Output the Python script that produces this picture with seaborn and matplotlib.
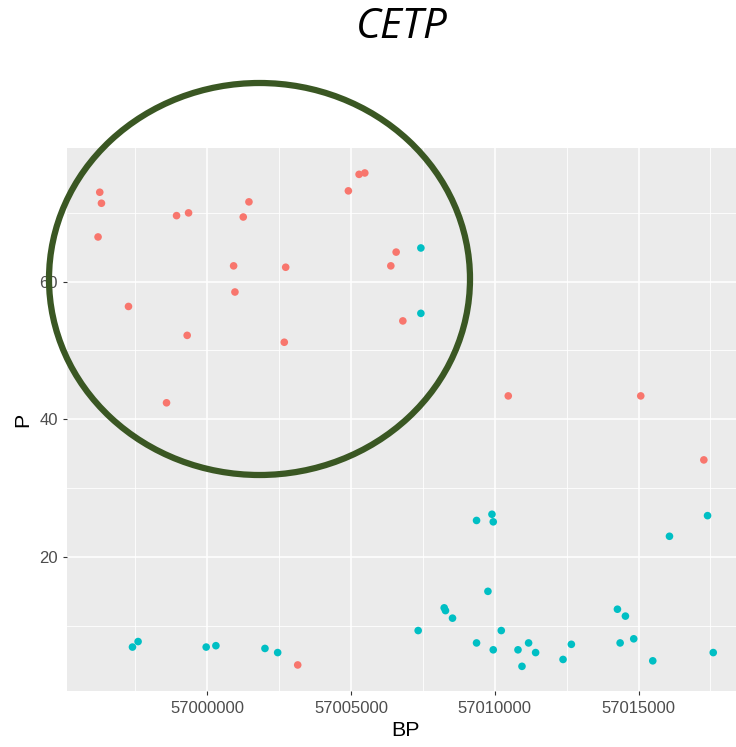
import matplotlib
matplotlib.use("Agg")
import matplotlib.pyplot as plt
from matplotlib.patches import Ellipse
from matplotlib.ticker import FixedLocator, FuncFormatter
import numpy as np
import pandas as pd
import seaborn as sns

# ---- data -------------------------------------------------------------
groups = ["group1", "group2"]
palette = {"group1": "#F8766D", "group2": "#00BFC4"}

bp_group1 = [56996264, 56996323, 56996205, 56998935, 56999352, 57001452,
             57001254, 57000919, 57000965, 56997263, 56999304, 56998586,
             57002730, 57002681, 57004910, 57005282, 57005481, 57006571,
             57006386, 57006804, 57003148, 57010470, 57015077, 57017271]
p_group1 = [73.0, 71.4, 66.5, 69.6, 70.0, 71.6,
            69.4, 62.3, 58.5, 56.4, 52.2, 42.4,
            62.1, 51.2, 73.2, 75.6, 75.8, 64.3,
            62.3, 54.3, 4.3, 43.4, 43.4, 34.1]

bp_group2 = [57007431, 57007431, 56997402, 56997597, 56999965, 57000303,
             57002009, 57002451, 57007337, 57008242, 57008287, 57008531,
             57009367, 57009367, 57009903, 57009948, 57016076, 57017400,
             57009763, 57014266, 57014544, 57010227, 57009948, 57010808,
             57011177, 57011421, 57010947, 57012375, 57012664, 57014360,
             57014833, 57015495, 57017598]
p_group2 = [64.9, 55.4, 6.9, 7.7, 6.9, 7.1,
            6.7, 6.1, 9.3, 12.6, 12.2, 11.1,
            25.3, 7.5, 26.2, 25.1, 23.0, 26.0,
            15.0, 12.4, 11.4, 9.3, 6.5, 6.5,
            7.5, 6.1, 4.1, 5.1, 7.3, 7.5,
            8.1, 4.9, 6.1]

x_major = [57000000, 57005000, 57010000, 57015000]
x_minor = [56997500, 57002500, 57007500, 57012500, 57017500]
y_major = [20, 40, 60]
y_minor = [10, 30, 50, 70]

df = pd.DataFrame({
    "BP": bp_group1 + bp_group2,
    "P": p_group1 + p_group2,
    "grp": [groups[0]] * len(bp_group1) + [groups[1]] * len(bp_group2),
})

# ---- figure -----------------------------------------------------------
plt.rcParams["font.family"] = ["Liberation Sans", "DejaVu Sans"]
W, H = 736, 747
fig = plt.figure(figsize=(W / 100, H / 100), dpi=100)
fig.patch.set_facecolor("white")

# panel box in pixels: left, top, right, bottom
pl, pt, pr, pb = 67.3, 148.3, 744.0, 691.0
ax = fig.add_axes([pl / W, 1 - pb / H, (pr - pl) / W, (pb - pt) / H])
ax.set_facecolor("#EBEBEB")

sns.scatterplot(data=df, x="BP", y="P", hue="grp", palette=palette,
                s=30, linewidth=0, legend=False, ax=ax, zorder=3)

# ggplot-like 5% expansion of the data range
def expand(v, frac=0.05):
    lo, hi = min(v), max(v)
    d = (hi - lo) * frac
    return lo - d, hi + d

ax.set_xlim(*expand(df["BP"]))
ax.set_ylim(*expand(df["P"]))

ax.xaxis.set_major_locator(FixedLocator(x_major))
ax.xaxis.set_minor_locator(FixedLocator(x_minor))
ax.yaxis.set_major_locator(FixedLocator(y_major))
ax.yaxis.set_minor_locator(FixedLocator(y_minor))
ax.xaxis.set_major_formatter(FuncFormatter(lambda v, _: f"{int(round(v))}"))
ax.yaxis.set_major_formatter(FuncFormatter(lambda v, _: f"{int(round(v))}"))

ax.grid(which="major", color="white", linewidth=1.1, zorder=0)
ax.grid(which="minor", color="white", linewidth=0.6, zorder=0)
ax.set_axisbelow(True)
for s in ax.spines.values():
    s.set_visible(False)

ax.tick_params(which="major", length=2.9, width=0.8, color="#333333",
               labelsize=12, labelcolor="#4D4D4D", pad=4)
ax.tick_params(which="minor", length=0)

ax.set_xlabel("BP", fontsize=15.4, color="black", labelpad=4)
ax.set_ylabel("P", fontsize=15.4, color="black", labelpad=5)

fig.text(402 / W, 1 - 38 / H, "CETP", ha="center", va="baseline",
         fontsize=30.5, style="italic", family=["Open Sans", "DejaVu Sans"],
         color="black")

# highlight ring drawn over the plot
ring = Ellipse((259.5 / W, 1 - 279 / H), 421 / W, 392 / H,
               transform=fig.transFigure, fill=False,
               edgecolor="#3A5723", linewidth=4.5, zorder=10)
fig.add_artist(ring)

fig.savefig("out.png", dpi=100, facecolor="white")
